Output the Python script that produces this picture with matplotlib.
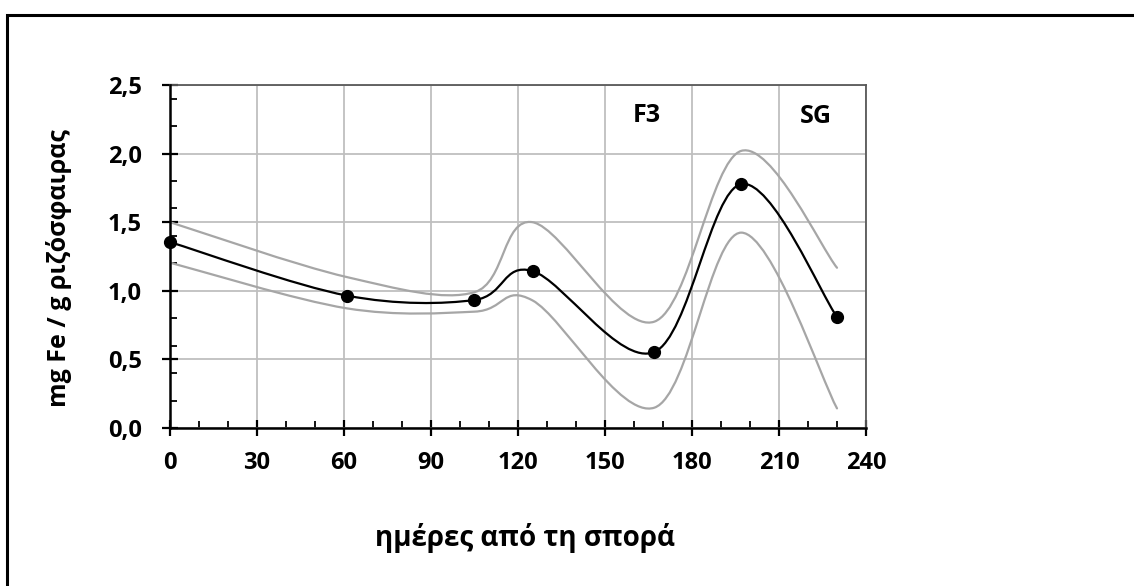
import numpy as np
import matplotlib
matplotlib.use("Agg")
import matplotlib.pyplot as plt
from matplotlib.path import Path
from matplotlib.patches import PathPatch, Rectangle
from matplotlib.ticker import MultipleLocator, FuncFormatter

plt.rcParams['font.family'] = ['Open Sans', 'DejaVu Sans']
plt.rcParams['font.weight'] = 'bold'

# data
days = [0, 61, 105, 125, 167, 197, 230]
fe_mean = [1.355, 0.965, 0.933, 1.144, 0.554, 1.778, 0.809]
fe_upper = [1.50, 1.10, 0.99, 1.50, 0.775, 2.02, 1.168]
fe_lower = [1.205, 0.872, 0.848, 0.93, 0.148, 1.424, 0.143]
x_ticks = [0, 30, 60, 90, 120, 150, 180, 210, 240]
y_ticks = [0.0, 0.5, 1.0, 1.5, 2.0, 2.5]
annotations = [("F3", 164.4, 2.28), ("SG", 222.6, 2.27)]


def smooth_path(xs, ys):
    pts = np.column_stack([xs, ys]).astype(float)
    n = len(pts)
    verts = [pts[0]]
    codes = [Path.MOVETO]
    for i in range(n - 1):
        p0 = pts[max(i - 1, 0)]
        p1 = pts[i]
        p2 = pts[i + 1]
        p3 = pts[min(i + 2, n - 1)]
        c1 = p1 + (p2 - p0) / 6.0
        c2 = p2 - (p3 - p1) / 6.0
        verts += [c1, c2, p2]
        codes += [Path.CURVE4] * 3
    return Path(verts, codes)


fig = plt.figure(figsize=(11.34, 5.86), dpi=100)
ax = fig.add_axes([170 / 1134, 1 - 428 / 586, 696 / 1134, 343 / 586])

ax.set_xlim(0, 240)
ax.set_ylim(0, 2.5)

ax.grid(True, which='major', color='#bfbfbf', linewidth=1.3, zorder=0)
ax.set_axisbelow(True)

for ys, col, lw in [(fe_upper, '#a6a6a6', 1.6), (fe_lower, '#a6a6a6', 1.6), (fe_mean, 'black', 1.6)]:
    patch = PathPatch(smooth_path(days, ys), facecolor='none', edgecolor=col,
                      linewidth=lw, zorder=3, capstyle='round')
    ax.add_patch(patch)

ax.plot(days, fe_mean, linestyle='none', marker='o', markersize=8.5,
        color='black', zorder=4, clip_on=False)

for txt, x, y in annotations:
    ax.text(x, y, txt, ha='center', va='center', fontsize=18, fontweight='bold')

ax.set_xticks(x_ticks)
ax.set_yticks(y_ticks)
ax.xaxis.set_minor_locator(MultipleLocator(10))
ax.yaxis.set_minor_locator(MultipleLocator(0.2))
ax.yaxis.set_major_formatter(FuncFormatter(lambda v, p: f"{v:.1f}".replace('.', ',')))
ax.xaxis.set_major_formatter(FuncFormatter(lambda v, p: f"{int(v)}"))

ax.tick_params(axis='both', which='major', direction='inout', length=11, width=1.6,
               labelsize=17, color='black')
ax.tick_params(axis='x', which='major', pad=11)
ax.tick_params(axis='y', which='major', pad=15)
ax.tick_params(axis='both', which='minor', direction='in', length=5, width=1.3, color='black')
for lbl in ax.get_xticklabels() + ax.get_yticklabels():
    lbl.set_fontweight('bold')

for side in ['left', 'bottom']:
    ax.spines[side].set_color('black')
    ax.spines[side].set_linewidth(1.8)
for side in ['top', 'right']:
    ax.spines[side].set_color('#595959')
    ax.spines[side].set_linewidth(1.3)
ax.spines['left'].set_zorder(5)
ax.spines['bottom'].set_zorder(5)

fig.text(59 / 1134, 1 - 268 / 586, 'mg Fe / g ριζόσφαιρας', rotation=90,
         ha='center', va='center', fontsize=18, fontweight='bold')
fig.text(525 / 1134, 1 - 538 / 586, 'ημέρες από τη σπορά',
         ha='center', va='center', fontsize=20, fontweight='bold')

fig.patches.append(Rectangle((7 / 1134, -0.1), 1.2, 1 - 15 / 586 + 0.1,
                             transform=fig.transFigure, fill=False,
                             edgecolor='black', linewidth=2.2, zorder=10))

fig.savefig('out.png', dpi=100)
